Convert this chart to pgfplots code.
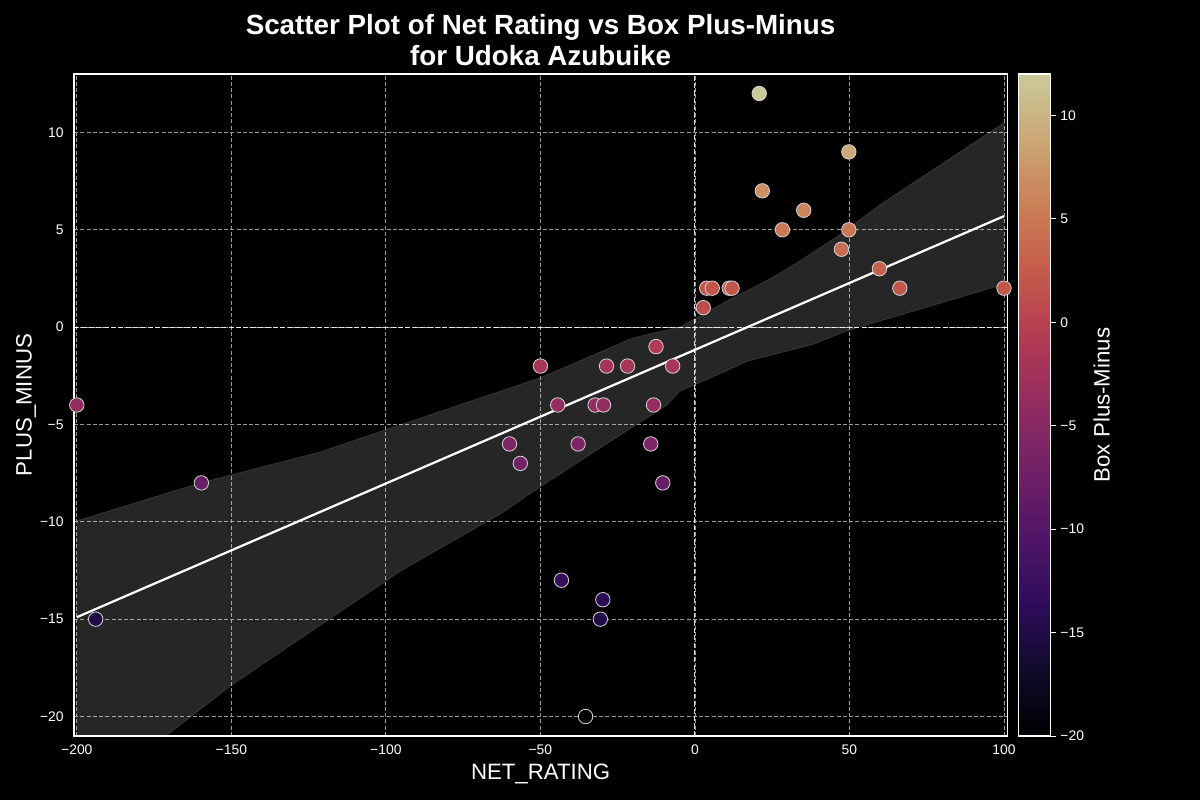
\documentclass[border=0pt]{standalone}
\usepackage{fontspec}
\setmainfont{Liberation Sans}
\usepackage{pgfplots}
\pgfplotsset{compat=1.18}
\pgfplotsset{colormap={magmadim}{
 rgb255(0cm)=(0,0,3)
 rgb255(1cm)=(16,11,43)
 rgb255(2cm)=(47,12,90)
 rgb255(3cm)=(80,21,102)
 rgb255(4cm)=(112,33,103)
 rgb255(5cm)=(146,44,97)
 rgb255(6cm)=(178,58,83)
 rgb255(7cm)=(198,90,74)
 rgb255(8cm)=(203,127,87)
 rgb255(9cm)=(203,166,117)
 rgb255(10cm)=(202,202,153)}}
\pgfplotstableread{
x y
-200 -4
-193.9 -15
-159.7 -8
-50.0 -2
-44.4 -4
-60.0 -6
-56.5 -7
-37.8 -6
-32.3 -4
-29.6 -4
-28.6 -2
-21.8 -2
-12.6 -1
-13.4 -4
-14.3 -6
-10.4 -8
-7.2 -2
-43.2 -13
-29.8 -14
-30.6 -15
-35.4 -20
2.7 1
3.8 2
5.6 2
11.1 2
12.0 2
20.8 12
21.8 7
28.3 5
35.2 6
49.8 9
49.8 5
47.4 4
59.7 3
66.3 2
100 2
}\pts
\begin{document}
\begin{tikzpicture}
\fill[black] (0pt,0pt) rectangle (864pt,576pt);
\useasboundingbox (0pt,0pt) rectangle (864pt,576pt);
\begin{axis}[
  at={(53.3pt,46.1pt)}, anchor=south west,
  scale only axis, width=671.8pt, height=476.6pt,
  xmin=-200.9, xmax=101, ymin=-21, ymax=13,
  axis line style={white, line width=0.8pt},
  xtick={-200,-150,...,100},
  xticklabels={−200,−150,−100,−50,0,50,100},
  ytick={-20,-15,...,10},
  yticklabels={−20,−15,−10,−5,0,5,10},
  major tick length=0pt,
  tick label style={white, font=\fontsize{10}{12}\selectfont},
  xticklabel style={yshift=-3pt},
  yticklabel style={xshift=-4pt},
  grid=major,
  major grid style={white!60!black, line width=0.6pt, dash pattern=on 3pt off 1.5pt},
  xlabel={NET\_RATING},
  ylabel={PLUS\_MINUS},
  label style={white, font=\fontsize{16}{19}\selectfont},
  xlabel style={yshift=0pt},
  ylabel style={yshift=-4pt},
  title={Scatter Plot of Net Rating vs Box Plus-Minus\\for Udoka Azubuike},
  title style={white, font=\bfseries\fontsize{20}{22.8}\selectfont, align=center, anchor=south, inner sep=0pt, yshift=-0.5pt},
  colormap name=magmadim,
  point meta min=-20, point meta max=12,
]
% confidence band
\addplot[fill=white, fill opacity=0.15, draw=white, draw opacity=0.12, line width=0.6pt] coordinates {
(-200,-9.95) (-160,-8.0) (-121,-6.4) (-95,-5.0) (-50,-2.6) (-20,-0.55) (-5,0) (11,1.4) (24,2.45) (33,3.3) (47,4.76) (60,6.3) (81,8.5) (100,10.5)
(100,2.2) (49,-0.2) (38,-0.9) (17,-1.75) (8,-2.4) (-5,-3.3) (-9,-4.0) (-30.6,-6.2) (-50,-8.2) (-63,-9.6) (-95,-12.5) (-150,-18.4) (-172,-21.1) (-200,-24.2)
} -- cycle;
% zero lines
\addplot[white, opacity=0.85, line width=0.8pt, dash pattern=on 3.7pt off 1.6pt] coordinates {(-200.9,0) (101,0)};
\addplot[white, opacity=0.85, line width=0.8pt, dash pattern=on 3.7pt off 1.6pt] coordinates {(0,-21) (0,13)};
% regression line
\addplot[white, line width=1.6pt] coordinates {(-200,-14.9) (100,5.7)};
% points
\addplot[scatter, only marks, mark=*, mark size=5.2pt, line width=0.6pt,
  point meta=explicit,
  scatter/use mapped color={draw=white!82!black, fill=mapped color}]
  table[x=x, y=y, meta=y] {\pts};
\end{axis}
% colorbar
\begin{axis}[
  at={(733pt,46.1pt)}, anchor=south west,
  scale only axis, width=23.5pt, height=476.6pt,
  view={0}{90},
  xmin=0, xmax=1, ymin=-20, ymax=12, zmin=-1, zmax=1,
  xtick=\empty, ztick=\empty,
  ytick={-20,-15,...,10},
  yticklabels={−20,−15,−10,−5,0,5,10},
  ytick pos=right, yticklabel pos=right,
  axis line style={white, line width=0.8pt},
  axis on top,
  major tick length=3.5pt,
  tick align=outside,
  ytick style={white, line width=0.6pt},
  yticklabel style={white, font=\fontsize{10}{12}\selectfont},
  ylabel={Box Plus-Minus},
  ylabel style={white, font=\fontsize{16}{19}\selectfont},
  colormap name=magmadim,
  point meta min=-20, point meta max=12,
]
\addplot3[surf, shader=faceted, faceted color=mapped color, line width=0.4pt,
  domain=0:1, y domain=-20:12, samples=2, samples y=129, point meta=y] {0};
\end{axis}
\end{tikzpicture}
\end{document}
